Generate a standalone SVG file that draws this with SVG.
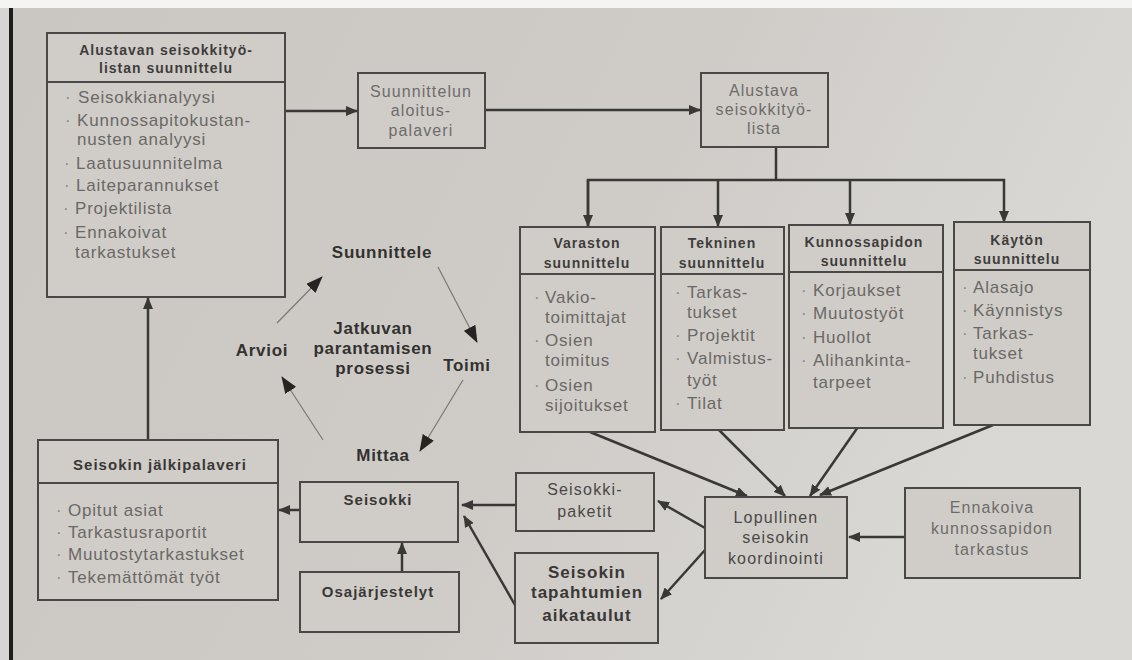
<svg xmlns="http://www.w3.org/2000/svg" width="1132" height="660" viewBox="0 0 1132 660">
  <defs>
    <linearGradient id="paper" x1="0" y1="0" x2="1" y2="0.3">
      <stop offset="0" stop-color="#cac7c3"/>
      <stop offset="0.6" stop-color="#cfccc8"/>
      <stop offset="1" stop-color="#dad8d5"/>
    </linearGradient>
    <marker id="ah" markerUnits="userSpaceOnUse" markerWidth="12" markerHeight="10" refX="11" refY="5" orient="auto">
      <path d="M0,0 L12,5 L0,10 Z" fill="#3a3836"/>
    </marker>
    <marker id="ahc" markerUnits="userSpaceOnUse" markerWidth="17" markerHeight="13" refX="16" refY="6.5" orient="auto">
      <path d="M0,0 L17,6.5 L0,13 Z" fill="#262422"/>
    </marker>
    <style>
      .box { fill: #d0cdc9; stroke: #4a4846; stroke-width: 2; }
      .sep { stroke: #4a4846; stroke-width: 2; }
      .hd { font-family: "Liberation Sans", Arial, sans-serif; font-weight: bold; font-size: 14px; letter-spacing: 1px; fill: #3f3d3b; text-anchor: middle; }
      .it { font-family: "Liberation Sans", Arial, sans-serif; font-size: 17px; letter-spacing: 0.8px; fill: #6a6865; }
      .bu { font-family: "Liberation Sans", Arial, sans-serif; font-size: 17px; fill: #8a8885; }
      .tx { font-family: "Liberation Sans", Arial, sans-serif; font-size: 16px; letter-spacing: 1.1px; fill: #6e6c69; text-anchor: middle; }
      .dk { font-family: "Liberation Sans", Arial, sans-serif; font-size: 16px; letter-spacing: 1.2px; fill: #4a4846; text-anchor: middle; }
      .bd { font-family: "Liberation Sans", Arial, sans-serif; font-weight: bold; font-size: 15px; letter-spacing: 1px; fill: #3a3836; text-anchor: middle; }
      .big { font-family: "Liberation Sans", Arial, sans-serif; font-weight: bold; font-size: 17px; letter-spacing: 1px; fill: #3a3836; text-anchor: middle; }
      .cy { font-family: "Liberation Sans", Arial, sans-serif; font-weight: bold; font-size: 17px; letter-spacing: 0.7px; fill: #33312f; text-anchor: middle; }
      .cn { fill: none; stroke: #3a3836; stroke-width: 2.5; }
      .cc { fill: none; stroke: #7a7875; stroke-width: 1.2; }
    </style>
  </defs>

  <!-- paper -->
  <rect x="0" y="0" width="1132" height="660" fill="url(#paper)"/>
  <rect x="0" y="0" width="1132" height="8" fill="#f4f4f3"/>
  <rect x="0" y="8" width="9" height="652" fill="#d6d5d3"/>
  <rect x="9" y="8" width="4" height="652" fill="#1e1d1c"/>

  <!-- connectors -->
  <g id="connectors">
    <line class="cn" x1="285" y1="111" x2="357" y2="111" marker-end="url(#ah)"/>
    <line class="cn" x1="485" y1="110" x2="700" y2="110" marker-end="url(#ah)"/>
    <polyline class="cn" points="776,147 776,180"/>
    <polyline class="cn" points="588,226 588,180 1004,180 1004,222" marker-end="url(#ah)"/>
    <line class="cn" x1="718" y1="180" x2="718" y2="226" marker-end="url(#ah)"/>
    <line class="cn" x1="850" y1="180" x2="850" y2="224" marker-end="url(#ah)"/>
    <line class="cn" x1="588" y1="180" x2="588" y2="226" marker-end="url(#ah)"/>
    <line class="cn" x1="148" y1="440" x2="148" y2="298" marker-end="url(#ah)"/>
    <line class="cn" x1="300" y1="510" x2="279" y2="510" marker-end="url(#ah)"/>
    <line class="cn" x1="402" y1="572" x2="402" y2="543" marker-end="url(#ah)"/>
    <line class="cn" x1="516" y1="505" x2="462" y2="505" marker-end="url(#ah)"/>
    <line class="cn" x1="515" y1="605" x2="464" y2="516" marker-end="url(#ah)"/>
    <line class="cn" x1="705" y1="528" x2="658" y2="501" marker-end="url(#ah)"/>
    <line class="cn" x1="705" y1="550" x2="661" y2="599" marker-end="url(#ah)"/>
    <line class="cn" x1="590" y1="432" x2="747" y2="496" marker-end="url(#ah)"/>
    <line class="cn" x1="719" y1="430" x2="785" y2="496" marker-end="url(#ah)"/>
    <line class="cn" x1="858" y1="427" x2="810" y2="496" marker-end="url(#ah)"/>
    <line class="cn" x1="993" y1="425" x2="820" y2="495" marker-end="url(#ah)"/>
    <line class="cn" x1="905" y1="537" x2="849" y2="537" marker-end="url(#ah)"/>
    <!-- improvement cycle -->
    <line class="cc" x1="438" y1="267" x2="477" y2="342" marker-end="url(#ahc)"/>
    <line class="cc" x1="463" y1="380" x2="420" y2="451" marker-end="url(#ahc)"/>
    <line class="cc" x1="323" y1="440" x2="282" y2="377" marker-end="url(#ahc)"/>
    <line class="cc" x1="277" y1="323" x2="322" y2="277" marker-end="url(#ahc)"/>
  </g>

  <!-- cycle labels -->
  <g id="cycle">
    <text class="cy" x="382" y="258">Suunnittele</text>
    <text class="cy" x="373" y="334">Jatkuvan</text>
    <text class="cy" x="373" y="354">parantamisen</text>
    <text class="cy" x="373" y="374">prosessi</text>
    <text class="cy" x="467" y="371">Toimi</text>
    <text class="cy" x="262" y="356">Arvioi</text>
    <text class="cy" x="383" y="461">Mittaa</text>
  </g>

  <g id="alustavan-suunnittelu">
    <rect class="box" x="47" y="33" width="238" height="264"/>
    <line class="sep" x1="47" y1="82" x2="285" y2="82"/>
    <text class="hd" x="166" y="55">Alustavan seisokkityö-</text>
    <text class="hd" x="166" y="73">listan suunnittelu</text>
    <text class="bu" x="65" y="103">·</text><text class="it" x="78" y="103">Seisokkianalyysi</text>
    <text class="bu" x="65" y="126">·</text><text class="it" x="77" y="126">Kunnossapitokustan-</text>
    <text class="it" x="77" y="145">nusten analyysi</text>
    <text class="bu" x="64" y="169">·</text><text class="it" x="76" y="169">Laatusuunnitelma</text>
    <text class="bu" x="64" y="191">·</text><text class="it" x="76" y="191">Laiteparannukset</text>
    <text class="bu" x="63" y="214">·</text><text class="it" x="75" y="214">Projektilista</text>
    <text class="bu" x="63" y="238">·</text><text class="it" x="75" y="238">Ennakoivat</text>
    <text class="it" x="75" y="258">tarkastukset</text>
  </g>

  <g id="aloituspalaveri">
    <rect class="box" x="358" y="73" width="127" height="75"/>
    <text class="tx" x="421" y="97">Suunnittelun</text>
    <text class="tx" x="421" y="116">aloitus-</text>
    <text class="tx" x="421" y="136">palaveri</text>
  </g>

  <g id="alustava-lista">
    <rect class="box" x="701" y="73" width="127" height="74"/>
    <text class="tx" x="764" y="96">Alustava</text>
    <text class="tx" x="764" y="115">seisokkityö-</text>
    <text class="tx" x="764" y="134">lista</text>
  </g>

  <g id="varaston">
    <rect class="box" x="520" y="227" width="135" height="205"/>
    <line class="sep" x1="520" y1="274" x2="655" y2="274"/>
    <text class="hd" x="587" y="248">Varaston</text>
    <text class="hd" x="587" y="268">suunnittelu</text>
    <text class="bu" x="534" y="303">·</text><text class="it" x="545" y="303">Vakio-</text>
    <text class="it" x="545" y="323">toimittajat</text>
    <text class="bu" x="534" y="346">·</text><text class="it" x="545" y="346">Osien</text>
    <text class="it" x="545" y="366">toimitus</text>
    <text class="bu" x="534" y="391">·</text><text class="it" x="545" y="391">Osien</text>
    <text class="it" x="545" y="411">sijoitukset</text>
  </g>

  <g id="tekninen">
    <rect class="box" x="661" y="227" width="123" height="203"/>
    <line class="sep" x1="661" y1="274" x2="784" y2="274"/>
    <text class="hd" x="722" y="248">Tekninen</text>
    <text class="hd" x="722" y="268">suunnittelu</text>
    <text class="bu" x="675" y="298">·</text><text class="it" x="687" y="298">Tarkas-</text>
    <text class="it" x="687" y="318">tukset</text>
    <text class="bu" x="675" y="341">·</text><text class="it" x="687" y="341">Projektit</text>
    <text class="bu" x="675" y="364">·</text><text class="it" x="687" y="364">Valmistus-</text>
    <text class="it" x="687" y="386">työt</text>
    <text class="bu" x="675" y="409">·</text><text class="it" x="687" y="409">Tilat</text>
  </g>

  <g id="kunnossapidon">
    <rect class="box" x="789" y="225" width="154" height="203"/>
    <line class="sep" x1="789" y1="272" x2="943" y2="272"/>
    <text class="hd" x="864" y="247">Kunnossapidon</text>
    <text class="hd" x="864" y="266">suunnittelu</text>
    <text class="bu" x="801" y="296">·</text><text class="it" x="813" y="296">Korjaukset</text>
    <text class="bu" x="801" y="319">·</text><text class="it" x="813" y="319">Muutostyöt</text>
    <text class="bu" x="801" y="343">·</text><text class="it" x="813" y="343">Huollot</text>
    <text class="bu" x="801" y="366">·</text><text class="it" x="813" y="366">Alihankinta-</text>
    <text class="it" x="813" y="388">tarpeet</text>
  </g>

  <g id="kayton">
    <rect class="box" x="954" y="222" width="136" height="203"/>
    <line class="sep" x1="954" y1="270" x2="1090" y2="270"/>
    <text class="hd" x="1017" y="245">Käytön</text>
    <text class="hd" x="1017" y="264">suunnittelu</text>
    <text class="bu" x="962" y="293">·</text><text class="it" x="973" y="293">Alasajo</text>
    <text class="bu" x="962" y="316">·</text><text class="it" x="973" y="316">Käynnistys</text>
    <text class="bu" x="962" y="339">·</text><text class="it" x="973" y="339">Tarkas-</text>
    <text class="it" x="973" y="359">tukset</text>
    <text class="bu" x="962" y="383">·</text><text class="it" x="973" y="383">Puhdistus</text>
  </g>

  <g id="jalkipalaveri">
    <rect class="box" x="38" y="440" width="240" height="160"/>
    <line class="sep" x1="38" y1="483" x2="278" y2="483"/>
    <text class="bd" x="160" y="470">Seisokin jälkipalaveri</text>
    <text class="bu" x="56" y="516">·</text><text class="it" x="68" y="516">Opitut asiat</text>
    <text class="bu" x="56" y="538">·</text><text class="it" x="68" y="538">Tarkastusraportit</text>
    <text class="bu" x="56" y="560">·</text><text class="it" x="68" y="560">Muutostytarkastukset</text>
    <text class="bu" x="56" y="583">·</text><text class="it" x="68" y="583">Tekemättömät työt</text>
  </g>

  <g id="seisokki">
    <rect class="box" x="300" y="482" width="158" height="60"/>
    <text class="bd" x="378" y="505">Seisokki</text>
  </g>

  <g id="osajarjestelyt">
    <rect class="box" x="300" y="572" width="159" height="60"/>
    <text class="bd" x="378" y="597">Osajärjestelyt</text>
  </g>

  <g id="seisokkipaketit">
    <rect class="box" x="516" y="473" width="138" height="58"/>
    <text class="dk" x="585" y="495">Seisokki-</text>
    <text class="dk" x="585" y="517">paketit</text>
  </g>

  <g id="aikataulut">
    <rect class="box" x="515" y="553" width="143" height="90"/>
    <text class="big" x="587" y="578">Seisokin</text>
    <text class="big" x="587" y="598">tapahtumien</text>
    <text class="big" x="587" y="621">aikataulut</text>
  </g>

  <g id="lopullinen">
    <rect class="box" x="705" y="497" width="142" height="81"/>
    <text class="dk" x="776" y="523">Lopullinen</text>
    <text class="dk" x="776" y="543">seisokin</text>
    <text class="dk" x="776" y="564">koordinointi</text>
  </g>

  <g id="ennakoiva">
    <rect class="box" x="905" y="488" width="175" height="90"/>
    <text class="tx" x="992" y="513">Ennakoiva</text>
    <text class="tx" x="992" y="534">kunnossapidon</text>
    <text class="tx" x="992" y="555">tarkastus</text>
  </g>
</svg>
